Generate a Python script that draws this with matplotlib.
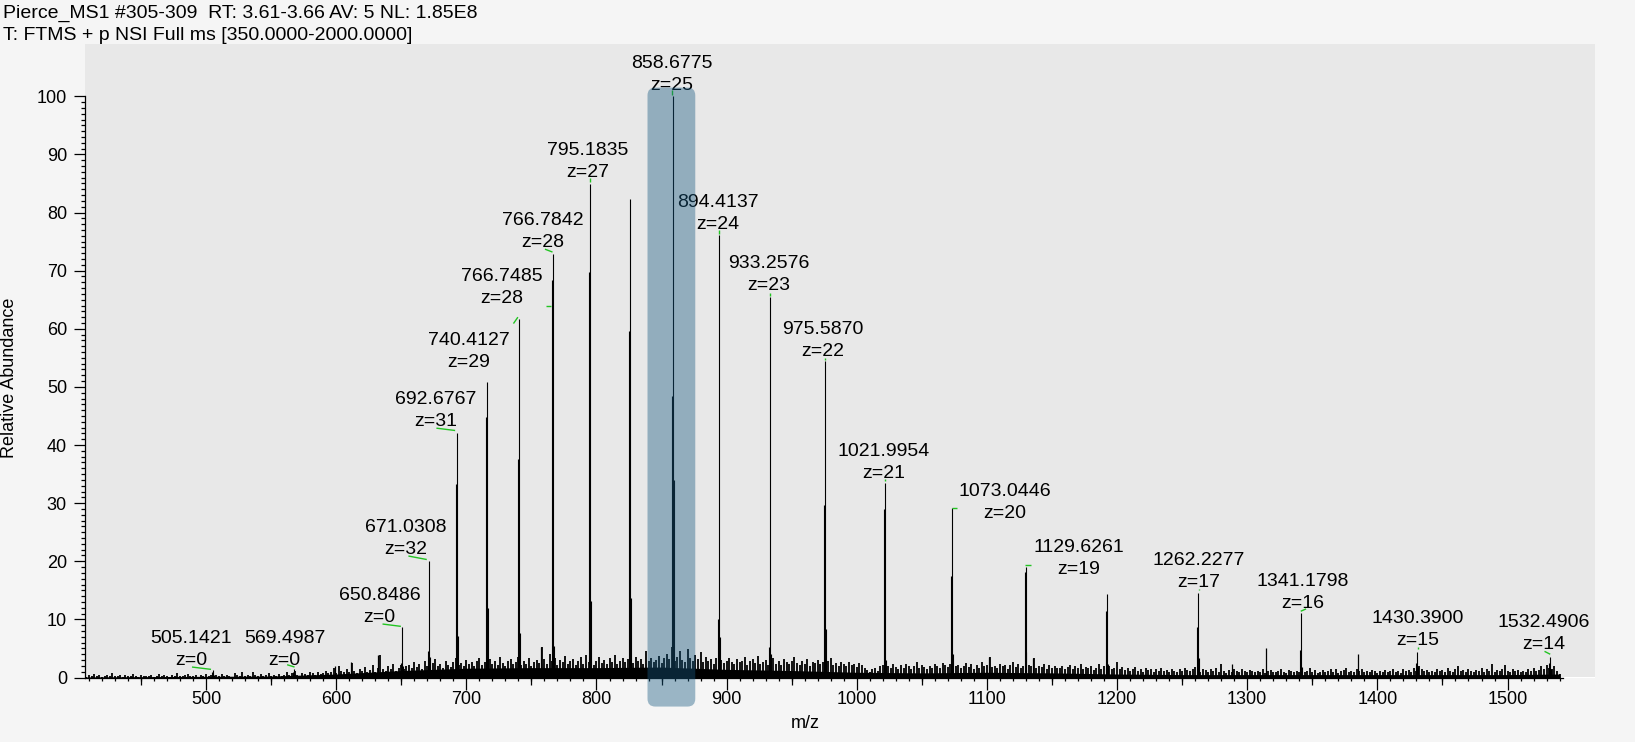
import numpy as np
import matplotlib
matplotlib.use("Agg")
import matplotlib.pyplot as plt
from matplotlib.patches import FancyBboxPatch
from matplotlib.ticker import FixedLocator, NullFormatter

plt.rcParams['font.family'] = ['Liberation Sans', 'DejaVu Sans']

header = ["Pierce_MS1 #305-309  RT: 3.61-3.66 AV: 5 NL: 1.85E8",
          "T: FTMS + p NSI Full ms [350.0000-2000.0000]"]

# charge-state envelope: apex m/z, apex, upper shoulder, lower shoulder (% rel. abundance)
peak_mz = [505.14, 567.3, 650.85, 671.03, 692.68, 715.73, 740.41, 766.78, 795.18, 825.67,
           858.68, 894.41, 933.26, 975.59, 1022.00, 1073.04, 1129.63, 1192.20, 1262.23,
           1341.18, 1430.39, 1532.49]
peak_top = [1.3, 1.5, 8.7, 20.1, 42.1, 50.8, 61.7, 72.8, 84.9, 82.3,
            100.0, 76.1, 65.5, 54.4, 33.5, 29.1, 19.0, 14.3, 14.5,
            11.1, 4.4, 3.5]
peak_shoulder = [0.9, 1.0, 2.5, 4.6, 33.3, 44.8, 37.6, 68.4, 69.8, 59.7,
                 48.4, 10.1, 5.2, 29.6, 29.0, 17.4, 18.1, 11.5, 8.7,
                 4.8, 2.5, 2.5]
peak_base = [0.5, 0.6, 2.0, 3.5, 7.2, 11.9, 7.6, 5.5, 13.2, 13.6,
             33.9, 6.9, 4.0, 8.4, 3.0, 4.1, 4.4, 2.4, 3.3,
             1.8, 1.8, 1.5]

# isolated spikes
spike_mz = [599.0, 611.2, 632.0, 757.0, 1101.5, 1135.6, 1288.6, 1314.7, 1385.2]
spike_h = [2.0, 2.6, 3.9, 5.2, 3.6, 3.3, 2.3, 5.0, 4.1]

# baseline noise, one value every 2 m/z from 406 to 1540
noise_start, noise_step = 406, 2
noise_h = [
    0.3, 0.1, 0.5, 0.2, 0.6, 0.2, 0.4, 0.1, 0.3, 0.5, 0.2, 0.7, 0.3, 0.2, 0.4, 0.1, 0.5, 0.3, 0.2, 0.6, 0.3, 0.1, 0.4, 0.2, 0.3,
    0.2, 0.5, 0.1, 0.3, 0.6, 0.2, 0.4, 0.3, 0.1, 0.5, 0.2, 0.8, 0.3, 0.2, 0.4, 0.6, 0.2, 0.3, 0.5, 0.1, 0.4, 0.2, 0.6, 0.3, 0.5,
    0.2, 0.4, 0.3, 0.6, 0.2, 0.5, 0.3, 0.1, 0.7, 0.4, 0.2, 0.9, 0.3, 0.5, 0.2, 1.0, 0.4, 0.3, 0.6, 0.2, 0.5, 0.8, 0.3, 0.4, 0.2,
    0.6, 0.3, 0.5, 0.9, 0.4, 0.7, 1.1, 0.5, 0.3, 0.8, 0.6, 0.4, 0.9, 0.7, 0.5, 1.0, 0.6, 0.8, 1.2, 0.7, 0.9, 1.6, 0.8, 2.0, 1.1,
    0.9, 1.4, 1.0, 2.5, 1.2, 0.8, 1.5, 1.1, 1.8, 0.9, 1.3, 2.2, 1.0, 1.6, 3.8, 1.4, 1.1, 1.9, 1.5, 2.4, 1.2, 1.7, 2.2, 1.4, 1.9,
    2.1, 1.6, 2.6, 1.8, 2.3, 1.5, 2.8, 2.0, 1.7, 2.5, 3.1, 1.9, 2.4, 1.6, 2.9, 2.2, 1.8, 2.7, 3.3, 2.1, 2.5, 1.9, 3.0, 2.3, 2.6,
    2.0, 2.8, 3.4, 2.2, 2.6, 1.8, 3.1, 2.4, 2.9, 2.1, 3.5, 2.5, 1.9, 2.8, 3.2, 2.3, 2.7, 3.6, 2.2, 2.9, 2.4, 3.3, 2.0, 2.7, 3.0,
    2.5, 5.2, 3.1, 2.4, 4.1, 2.8, 3.4, 2.2, 3.0, 2.6, 3.7, 2.3, 2.9, 3.2, 2.1, 2.8, 3.5, 2.4, 3.9, 2.7, 3.1, 2.2, 2.9, 3.6, 2.5,
    3.0, 2.4, 3.3, 2.7, 3.8, 2.3, 2.9, 3.4, 2.6, 3.1, 4.2, 2.5, 3.6, 2.8, 3.2, 2.4, 4.5, 2.9, 3.3, 2.6, 3.0, 3.7, 2.5, 3.4, 4.0,
    3.1, 5.3, 2.9, 3.6, 4.6, 3.0, 2.7, 4.9, 3.3, 2.8, 3.9, 3.2, 4.4, 2.6, 3.5, 2.9, 3.1, 2.4, 3.3, 2.8, 3.0, 2.5, 2.9, 3.4, 2.7,
    2.3, 3.1, 2.6, 2.9, 3.5, 2.2, 2.8, 3.2, 2.5, 3.7, 2.4, 2.7, 3.0, 2.1, 2.6, 3.3, 2.4, 2.9, 2.2, 3.1, 2.6, 2.3, 2.8, 3.5, 2.5,
    2.2, 2.9, 2.4, 3.2, 2.0, 2.7, 2.5, 3.0, 2.3, 2.6, 2.1, 2.8, 3.4, 2.2, 2.5, 2.0, 2.7, 2.3, 1.9, 2.6, 2.2, 2.4, 1.8, 2.5, 2.1,
    1.6, 1.3, 1.0, 1.4, 1.7, 1.2, 1.9, 2.2, 1.5, 2.0, 1.7, 2.4, 1.8, 1.5, 2.1, 1.6, 2.3, 1.9, 1.4, 2.0, 2.6, 1.7, 2.2, 1.8, 1.5,
    2.0, 1.7, 2.3, 1.9, 1.6, 2.5, 2.1, 1.8, 2.4, 2.7, 1.9, 2.2, 1.6, 2.0, 2.5, 1.8, 2.3, 1.5, 2.1, 1.7, 2.6, 1.9, 2.2, 3.6, 1.8,
    2.0, 1.6, 2.4, 1.9, 2.2, 1.5, 2.1, 2.7, 1.8, 2.3, 1.6, 2.0, 1.7, 2.2, 1.9, 3.3, 1.6, 2.0, 1.8, 2.3, 1.5, 2.1, 1.7, 1.9, 1.6,
    1.6, 2.0, 1.4, 1.8, 2.2, 1.5, 1.9, 1.7, 2.3, 1.4, 1.8, 1.6, 2.0, 1.3, 1.7, 2.4, 1.5, 1.9, 1.6, 2.0, 1.4, 1.7, 2.6, 1.5, 1.8,
    1.3, 1.6, 1.1, 1.5, 1.8, 1.2, 1.4, 1.0, 1.7, 1.3, 1.5, 0.9, 1.4, 1.2, 1.6, 1.1, 1.3, 0.9, 1.5, 1.2, 1.0, 1.4, 1.1, 1.6, 1.3,
    1.1, 1.4, 1.8, 1.2, 1.0, 1.5, 1.3, 0.9, 1.4, 1.1, 1.6, 1.0, 2.3, 1.2, 0.8, 1.3, 1.0, 1.5, 1.1, 0.9, 1.4, 1.2, 1.0, 1.3, 1.1,
    0.9, 1.2, 1.0, 1.4, 0.8, 1.1, 1.3, 1.0, 0.9, 1.2, 1.5, 1.0, 0.8, 1.3, 1.1, 0.9, 1.2, 1.0, 1.4, 0.9, 1.1, 1.6, 1.0, 1.3, 0.8,
    1.0, 1.3, 0.9, 1.2, 1.5, 1.0, 1.4, 0.8, 1.1, 1.3, 1.7, 1.0, 1.2, 0.9, 1.4, 1.1, 1.5, 1.0, 1.2, 0.9, 1.3, 1.1, 0.8, 1.2, 1.0,
    1.3, 0.9, 1.1, 1.4, 1.0, 1.2, 0.8, 1.5, 1.1, 1.3, 1.0, 1.6, 1.2, 2.0, 1.4, 1.1, 1.3, 0.9, 1.2, 1.0, 1.5, 1.1, 1.3, 0.9, 1.6,
    1.2, 1.0, 1.4, 1.9, 1.1, 1.3, 1.0, 1.5, 1.2, 0.9, 1.3, 1.1, 1.6, 1.0, 1.4, 1.2, 2.3, 1.0, 1.3, 1.1, 1.5, 2.1, 1.2, 1.0, 1.4,
    1.1, 1.3, 0.9, 1.2, 1.0, 1.4, 1.1, 1.6, 1.2, 1.3, 1.9, 1.5, 2.2, 1.7, 1.4, 2.0, 1.2, 0.6,
]

# solid noise floor under the sticks
floor_mz = [406, 450, 500, 550, 600, 650, 700, 750, 800, 850, 900, 950, 1000, 1050,
            1100, 1150, 1200, 1250, 1300, 1350, 1400, 1450, 1500, 1540]
floor_h = [0.1, 0.15, 0.2, 0.25, 0.6, 1.2, 1.6, 1.7, 1.7, 1.8, 1.4, 1.2, 0.9, 0.8,
           0.9, 0.8, 0.6, 0.5, 0.5, 0.5, 0.5, 0.5, 0.5, 0.6]

# peak annotations: m/z text, charge, label anchor (m/z, abundance of z-line baseline)
label_text = ["505.1421", "569.4987", "650.8486", "671.0308", "692.6767", "740.4127",
              "766.7485", "766.7842", "795.1835", "858.6775", "894.4137", "933.2576",
              "975.5870", "1021.9954", "1073.0446", "1129.6261", "1262.2277", "1341.1798",
              "1430.3900", "1532.4906"]
label_z = [0, 0, 0, 32, 31, 29, 28, 28, 27, 25, 24, 23, 22, 21, 20, 19, 17, 16, 15, 14]
label_x = [488.5, 560.5, 633.5, 653.8, 676.5, 701.6, 727.3, 758.5, 793.6, 858.0,
           893.3, 932.7, 974.0, 1020.6, 1114.0, 1170.3, 1262.8, 1342.9, 1431.1, 1528.0]
label_y = [2.2, 2.2, 9.6, 21.2, 43.3, 53.5, 64.5, 74.0, 86.1, 101.1,
           77.2, 66.6, 55.4, 34.4, 27.5, 17.8, 15.5, 12.0, 5.6, 4.9]

# green centroid markers (from m/z, to m/z, from %, to %)
mark_x0 = [489.2, 562.3, 635.6, 655.5, 677.0, 736.2, 761.3, 760.4, 795.2, 858.4,
           893.8, 933.2, 975.2, 1021.6, 1072.9, 1129.5, 1262.9, 1341.1, 1431.0, 1528.4]
mark_x1 = [503.8, 568.0, 649.7, 669.6, 691.4, 739.6, 765.4, 766.2, 795.2, 858.4,
           893.8, 933.2, 975.2, 1021.6, 1077.0, 1134.1, 1262.9, 1345.2, 1431.0, 1532.8]
mark_y0 = [1.8, 2.2, 9.2, 20.9, 42.9, 60.9, 64.0, 73.7, 85.9, 101.0,
           77.0, 66.2, 55.0, 34.2, 29.2, 19.4, 15.3, 11.4, 5.2, 4.5]
mark_y1 = [1.4, 1.8, 8.8, 20.3, 42.5, 62.0, 64.0, 73.2, 85.2, 100.2,
           76.3, 65.6, 54.6, 33.8, 29.2, 19.4, 15.0, 11.8, 4.9, 4.0]

highlight_mz = (839.2, 875.9)

fig = plt.figure(figsize=(16.35, 7.42), dpi=100, facecolor='#f5f5f5')
ax = fig.add_axes([85 / 1635, (742 - 677.5) / 742, 1510 / 1635, 633.5 / 742])
ax.set_facecolor('#e8e8e8')

ax.fill_between(floor_mz, 0, floor_h, color='black', lw=0)
noise_mz = noise_start + noise_step * np.arange(len(noise_h))
ax.vlines(noise_mz, 0, noise_h, color='black', lw=1.3)
ax.vlines(spike_mz, 0, spike_h, color='black', lw=0.9)

pm = np.array(peak_mz)
ax.vlines(pm, 0, peak_top, color='black', lw=0.8)
ax.vlines(pm - 0.75, 0, peak_shoulder, color='black', lw=0.8)
ax.vlines(pm + 0.75, 0, peak_base, color='black', lw=0.8)

for x0, x1, y0, y1 in zip(mark_x0, mark_x1, mark_y0, mark_y1):
    ax.plot([x0, x1], [y0, y1], color='#22c422', lw=1.0, solid_capstyle='butt')

for txt, z, x, y in zip(label_text, label_z, label_x, label_y):
    ax.text(x, y, f"z={z}", ha='center', va='baseline', fontsize=14, zorder=4)
    ax.annotate(txt, xy=(x, y), xytext=(0, 15.8), textcoords='offset points',
                ha='center', va='baseline', fontsize=14, zorder=4,
                annotation_clip=False)

box = FancyBboxPatch((highlight_mz[0], -5.0), highlight_mz[1] - highlight_mz[0], 106.5,
                     boxstyle='round,pad=0,rounding_size=6', mutation_aspect=0.224,
                     fc=(24 / 255, 90 / 255, 129 / 255), alpha=0.41, ec='none',
                     clip_on=False, zorder=6)
ax.add_patch(box)

ax.set_xlim(407.0, 1567.2)
ax.set_ylim(0, 109.0)
for s in ['top', 'right']:
    ax.spines[s].set_visible(False)
ax.spines['bottom'].set_bounds(407.0, 1542.6)
ax.spines['left'].set_bounds(0, 100)
for s in ['bottom', 'left']:
    ax.spines[s].set_linewidth(0.9)

ax.xaxis.set_major_locator(FixedLocator(np.arange(500, 1501, 100)))
ax.xaxis.set_minor_locator(FixedLocator(np.arange(410, 1541, 10)))
ax.yaxis.set_major_locator(FixedLocator(np.arange(0, 101, 10)))
ax.yaxis.set_minor_locator(FixedLocator(np.arange(0, 101, 1)))
ax.tick_params(axis='x', which='major', length=8.4, width=0.9, pad=1.5, labelsize=13)
ax.tick_params(axis='x', which='minor', length=2.2, width=0.9)
ax.tick_params(axis='y', which='major', length=8.0, width=0.9, pad=5, labelsize=13)
ax.tick_params(axis='y', which='minor', length=3.0, width=0.9)

# half-hundred ticks
sec = ax.secondary_xaxis('bottom')
sec.spines['bottom'].set_visible(False)
sec.xaxis.set_major_locator(FixedLocator(np.arange(450, 1541, 100)))
sec.xaxis.set_major_formatter(NullFormatter())
sec.tick_params(axis='x', which='major', length=4.8, width=0.9)
sec.xaxis.set_minor_locator(FixedLocator([]))

fig.text(3 / 1635, 1 - 18 / 742, header[0], ha='left', va='baseline', fontsize=14)
fig.text(3 / 1635, 1 - 40.3 / 742, header[1], ha='left', va='baseline', fontsize=14)
fig.text(9.5 / 1635, 1 - 378 / 742, 'Relative Abundance', rotation=90,
         ha='center', va='center', fontsize=13)
fig.text(805 / 1635, 1 - 724 / 742, 'm/z', ha='center', va='center', fontsize=13)

fig.savefig('out.png', dpi=100, facecolor=fig.get_facecolor())
